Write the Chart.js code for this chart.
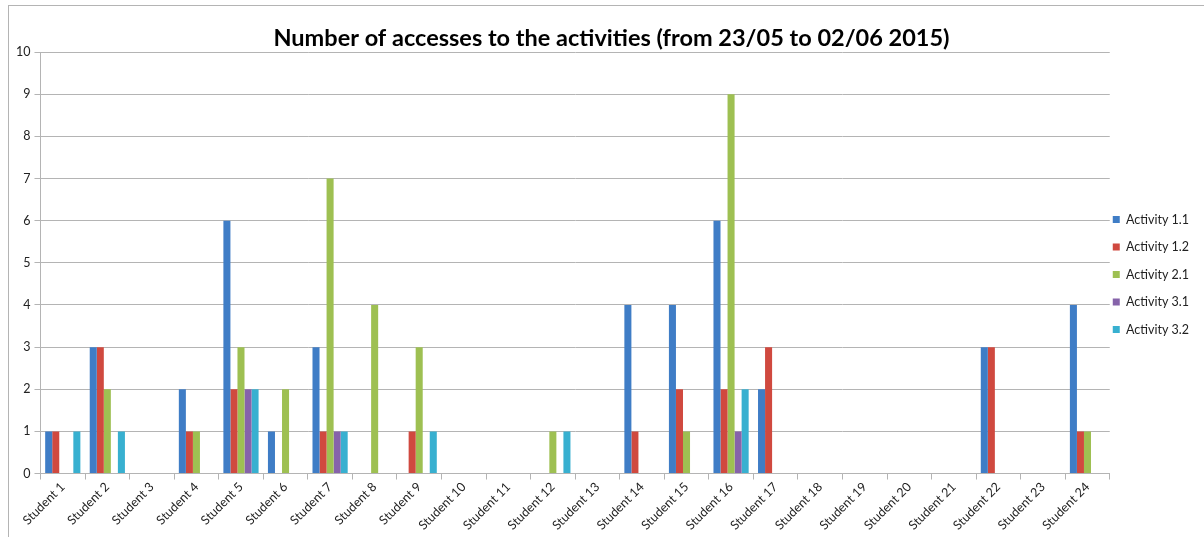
<!DOCTYPE html>
<html>
<head>
<meta charset="utf-8">
<script src="https://cdn.jsdelivr.net/npm/chart.js@4/dist/chart.umd.min.js"></script>
<style>
  body { margin: 0; background: #fff; }
  #frame { position: absolute; left: 8px; top: 5px; width: 1300px; height: 700px; border: 1px solid #b4b4b4; }
  canvas { position: absolute; left: 0; top: 0; }
</style>
</head>
<body>
<div id="frame"></div>
<canvas id="chart" width="1204" height="537"></canvas>
<script>
const students = [];
for (let i = 1; i <= 24; i++) students.push("Student " + i);

// values per activity, Student 1..24
const activity11 = [1, 3, 0, 2, 6, 1, 3, 0, 0, 0, 0, 0, 0, 4, 4, 6, 2, 0, 0, 0, 0, 3, 0, 4];
const activity12 = [1, 3, 0, 1, 2, 0, 1, 0, 1, 0, 0, 0, 0, 1, 2, 2, 3, 0, 0, 0, 0, 3, 0, 1];
const activity21 = [0, 2, 0, 1, 3, 2, 7, 4, 3, 0, 0, 1, 0, 0, 1, 9, 0, 0, 0, 0, 0, 0, 0, 1];
const activity31 = [0, 0, 0, 0, 2, 0, 1, 0, 0, 0, 0, 0, 0, 0, 0, 1, 0, 0, 0, 0, 0, 0, 0, 0];
const activity32 = [1, 1, 0, 0, 2, 0, 1, 0, 1, 0, 0, 1, 0, 0, 0, 2, 0, 0, 0, 0, 0, 0, 0, 0];

const seriesNames = ["Activity 1.1", "Activity 1.2", "Activity 2.1", "Activity 3.1", "Activity 3.2"];
const seriesColors = ["#3f7dc6", "#d0493f", "#9ec052", "#8663aa", "#38b0d0"];

const gridColor = "#b4b4b4";
const font = "Lato, 'Liberation Sans', sans-serif";

const data = {
  labels: students,
  datasets: [activity11, activity12, activity21, activity31, activity32].map((vals, i) => ({
    label: seriesNames[i],
    data: vals,
    backgroundColor: seriesColors[i],
    borderWidth: 0,
    barPercentage: 1,
    categoryPercentage: 0.79,
  })),
};

// pull the legend closer to the plot, like the Excel original
const legendShift = {
  id: "legendShift",
  beforeDraw(chart) {
    const lg = chart.legend;
    lg.left -= 12;
    lg.right -= 12;
    lg.top += 8;
    lg.bottom += 8;
  },
};

const options = {
  responsive: false,
  devicePixelRatio: 1,
  animation: false,
  layout: { padding: { left: 12, right: -7, top: 0, bottom: 4 } },
  scales: {
    x: {
      grid: { drawOnChartArea: false, color: gridColor, tickLength: 6, offset: true },
      border: { color: gridColor },
      ticks: {
        color: "#222",
        font: { family: font, size: 12.5 },
        minRotation: 45,
        maxRotation: 45,
        autoSkip: false,
        padding: 0,
      },
    },
    y: {
      min: 0,
      max: 10,
      grid: { color: gridColor, tickLength: 6 },
      border: { color: gridColor },
      ticks: {
        stepSize: 1,
        color: "#222",
        font: { family: font, size: 12.5 },
        padding: 4,
      },
    },
  },
  plugins: {
    title: {
      display: true,
      text: "Number of accesses to the activities (from 23/05 to 02/06 2015)",
      color: "#000",
      font: { family: font, size: 23.5, weight: "bold" },
      padding: { top: 24, bottom: 0 },
    },
    legend: {
      position: "right",
      labels: {
        color: "#222",
        font: { family: font, size: 12.5 },
        boxWidth: 7,
        boxHeight: 7,
        padding: 15,
      },
    },
    tooltip: { enabled: false },
  },
};

new Chart(document.getElementById("chart"), { type: "bar", data, options, plugins: [legendShift] });
</script>
</body>
</html>
